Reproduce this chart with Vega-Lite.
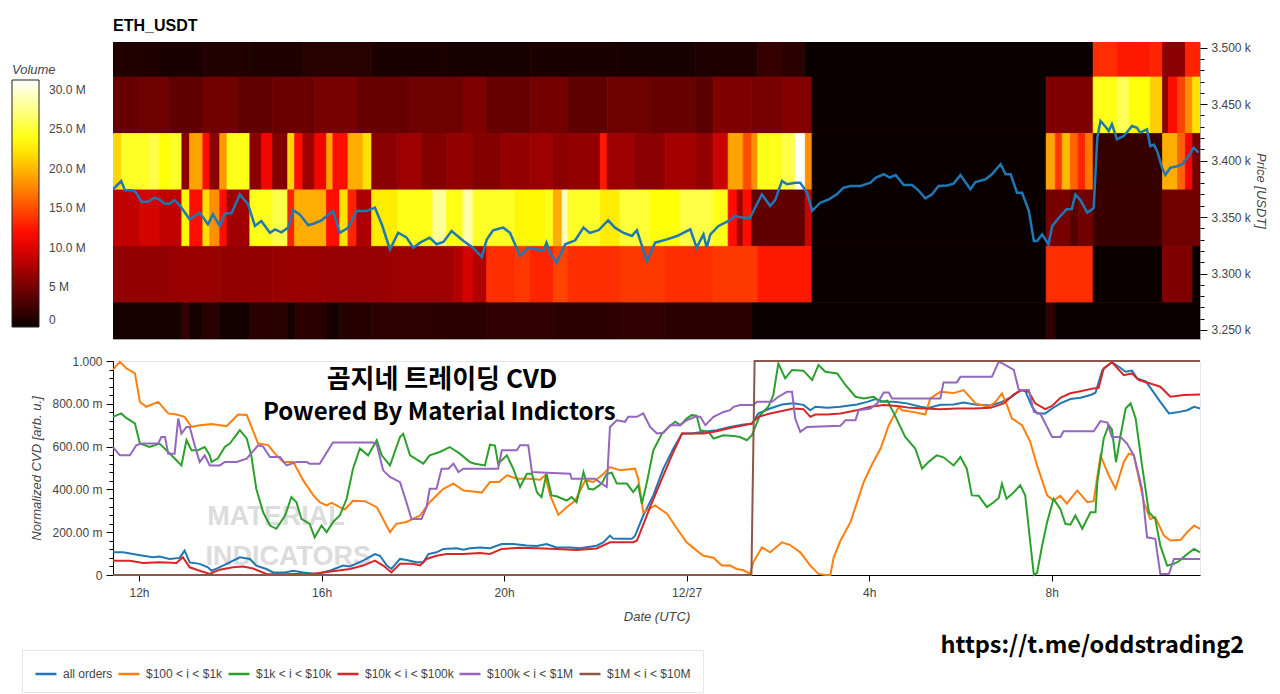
{
"$schema": "https://vega.github.io/schema/vega-lite/v6.json",
"background": "#ffffff",
"padding": {"left": 11, "top": 17, "right": 12, "bottom": 0},
"spacing": 14,
"resolve": {"scale": {"color": "independent", "x": "independent", "y": "independent"}, "legend": {"color": "independent"}},
"config": {
  "font": "Liberation Sans",
  "view": {"stroke": null},
  "axis": {"labelFont": "Liberation Sans", "titleFont": "Liberation Sans", "labelColor": "#444", "titleColor": "#444", "labelFontSize": 12, "titleFontSize": 13, "titleFontStyle": "italic", "titleFontWeight": "normal", "domainColor": "#000", "tickColor": "#000", "labelOverlap": false},
  "legend": {"labelFont": "Liberation Sans", "titleFont": "Liberation Sans"}
},
"datasets": {
"heat": [
{"t":11.43,"t2":12.45,"p":3474,"p2":3524,"v":1.0},{"t":12.45,"t2":13.40,"p":3474,"p2":3524,"v":0.7},{"t":13.40,"t2":14.43,"p":3474,"p2":3524,"v":1.1},{"t":14.43,"t2":15.59,"p":3474,"p2":3524,"v":0.9},{"t":15.59,"t2":17.10,"p":3474,"p2":3524,"v":1.3},{"t":17.10,"t2":18.74,"p":3474,"p2":3524,"v":0.8},{"t":18.74,"t2":20.57,"p":3474,"p2":3524,"v":0.6},{"t":20.57,"t2":22.54,"p":3474,"p2":3524,"v":0.8},{"t":22.54,"t2":24.19,"p":3474,"p2":3524,"v":0.6},{"t":24.19,"t2":25.56,"p":3474,"p2":3524,"v":0.9},{"t":25.56,"t2":26.09,"p":3474,"p2":3524,"v":2.0},{"t":26.09,"t2":26.60,"p":3474,"p2":3524,"v":1.5},{"t":26.60,"t2":32.91,"p":3474,"p2":3524,"v":0},{"t":32.91,"t2":33.44,"p":3474,"p2":3524,"v":13.5},{"t":33.44,"t2":34.16,"p":3474,"p2":3524,"v":12.5},{"t":34.16,"t2":34.43,"p":3474,"p2":3524,"v":13.0},{"t":34.43,"t2":34.93,"p":3474,"p2":3524,"v":6.0},{"t":34.93,"t2":35.25,"p":3474,"p2":3524,"v":13.0},
{"t":11.43,"t2":12.02,"p":3424,"p2":3474,"v":4.3},{"t":12.02,"t2":12.67,"p":3424,"p2":3474,"v":4.7},{"t":12.67,"t2":13.40,"p":3424,"p2":3474,"v":3.9},{"t":13.40,"t2":14.17,"p":3424,"p2":3474,"v":4.8},{"t":14.17,"t2":14.93,"p":3424,"p2":3474,"v":4.1},{"t":14.93,"t2":15.85,"p":3424,"p2":3474,"v":4.5},{"t":15.85,"t2":16.77,"p":3424,"p2":3474,"v":5.1},{"t":16.77,"t2":17.94,"p":3424,"p2":3474,"v":4.3},{"t":17.94,"t2":19.10,"p":3424,"p2":3474,"v":4.7},{"t":19.10,"t2":19.62,"p":3424,"p2":3474,"v":5.5},{"t":19.62,"t2":20.57,"p":3424,"p2":3474,"v":4.3},{"t":20.57,"t2":21.40,"p":3424,"p2":3474,"v":4.9},{"t":21.40,"t2":22.26,"p":3424,"p2":3474,"v":3.9},{"t":22.26,"t2":23.20,"p":3424,"p2":3474,"v":4.7},{"t":23.20,"t2":24.19,"p":3424,"p2":3474,"v":4.3},{"t":24.19,"t2":24.58,"p":3424,"p2":3474,"v":3.7},{"t":24.58,"t2":25.43,"p":3424,"p2":3474,"v":5.5},{"t":25.43,"t2":26.09,"p":3424,"p2":3474,"v":5.1},{"t":26.09,"t2":26.75,"p":3424,"p2":3474,"v":5.6},{"t":26.75,"t2":31.88,"p":3424,"p2":3474,"v":0},{"t":31.88,"t2":32.91,"p":3424,"p2":3474,"v":5.5},{"t":32.91,"t2":33.44,"p":3424,"p2":3474,"v":24.0},{"t":33.44,"t2":33.70,"p":3424,"p2":3474,"v":26.0},{"t":33.70,"t2":34.16,"p":3424,"p2":3474,"v":23.5},{"t":34.16,"t2":34.43,"p":3424,"p2":3474,"v":21.0},{"t":34.43,"t2":34.56,"p":3424,"p2":3474,"v":6.0},{"t":34.56,"t2":34.76,"p":3424,"p2":3474,"v":12.0},{"t":34.76,"t2":34.93,"p":3424,"p2":3474,"v":14.5},{"t":34.93,"t2":35.09,"p":3424,"p2":3474,"v":18.0},{"t":35.09,"t2":35.25,"p":3424,"p2":3474,"v":22.0},
{"t":11.43,"t2":11.62,"p":3374,"p2":3424,"v":21.5},{"t":11.62,"t2":12.23,"p":3374,"p2":3424,"v":24.5},{"t":12.23,"t2":12.45,"p":3374,"p2":3424,"v":25.5},{"t":12.45,"t2":12.67,"p":3374,"p2":3424,"v":23.5},{"t":12.67,"t2":12.94,"p":3374,"p2":3424,"v":24.5},{"t":12.94,"t2":13.11,"p":3374,"p2":3424,"v":6.0},{"t":13.11,"t2":13.40,"p":3374,"p2":3424,"v":19.0},{"t":13.40,"t2":13.55,"p":3374,"p2":3424,"v":12.0},{"t":13.55,"t2":13.77,"p":3374,"p2":3424,"v":6.0},{"t":13.77,"t2":13.93,"p":3374,"p2":3424,"v":18.5},{"t":13.93,"t2":14.43,"p":3374,"p2":3424,"v":24.0},{"t":14.43,"t2":14.69,"p":3374,"p2":3424,"v":6.0},{"t":14.69,"t2":14.93,"p":3374,"p2":3424,"v":11.0},{"t":14.93,"t2":15.26,"p":3374,"p2":3424,"v":5.6},{"t":15.26,"t2":15.41,"p":3374,"p2":3424,"v":21.5},{"t":15.41,"t2":15.59,"p":3374,"p2":3424,"v":12.0},{"t":15.59,"t2":15.85,"p":3374,"p2":3424,"v":6.8},{"t":15.85,"t2":16.11,"p":3374,"p2":3424,"v":11.0},{"t":16.11,"t2":16.25,"p":3374,"p2":3424,"v":19.0},{"t":16.25,"t2":16.58,"p":3374,"p2":3424,"v":12.0},{"t":16.58,"t2":16.91,"p":3374,"p2":3424,"v":19.5},{"t":16.91,"t2":17.10,"p":3374,"p2":3424,"v":22.0},{"t":17.10,"t2":17.67,"p":3374,"p2":3424,"v":6.0},{"t":17.67,"t2":18.20,"p":3374,"p2":3424,"v":6.8},{"t":18.20,"t2":18.74,"p":3374,"p2":3424,"v":5.6},{"t":18.74,"t2":19.32,"p":3374,"p2":3424,"v":6.4},{"t":19.32,"t2":19.91,"p":3374,"p2":3424,"v":5.6},{"t":19.91,"t2":20.57,"p":3374,"p2":3424,"v":6.4},{"t":20.57,"t2":21.08,"p":3374,"p2":3424,"v":6.8},{"t":21.08,"t2":21.40,"p":3374,"p2":3424,"v":6.0},{"t":21.40,"t2":22.11,"p":3374,"p2":3424,"v":6.4},{"t":22.11,"t2":22.26,"p":3374,"p2":3424,"v":12.5},{"t":22.26,"t2":22.87,"p":3374,"p2":3424,"v":6.8},{"t":22.87,"t2":23.53,"p":3374,"p2":3424,"v":6.0},{"t":23.53,"t2":24.19,"p":3374,"p2":3424,"v":7.2},{"t":24.19,"t2":24.58,"p":3374,"p2":3424,"v":6.4},{"t":24.58,"t2":24.91,"p":3374,"p2":3424,"v":9.0},{"t":24.91,"t2":25.24,"p":3374,"p2":3424,"v":19.0},{"t":25.24,"t2":25.43,"p":3374,"p2":3424,"v":15.0},{"t":25.43,"t2":25.56,"p":3374,"p2":3424,"v":18.0},{"t":25.56,"t2":26.09,"p":3374,"p2":3424,"v":24.0},{"t":26.09,"t2":26.38,"p":3374,"p2":3424,"v":25.5},{"t":26.38,"t2":26.60,"p":3374,"p2":3424,"v":31.0},{"t":26.60,"t2":26.75,"p":3374,"p2":3424,"v":18.0},{"t":26.75,"t2":31.88,"p":3374,"p2":3424,"v":0},{"t":31.88,"t2":32.08,"p":3374,"p2":3424,"v":19.0},{"t":32.08,"t2":32.23,"p":3374,"p2":3424,"v":14.0},{"t":32.23,"t2":32.41,"p":3374,"p2":3424,"v":20.0},{"t":32.41,"t2":32.58,"p":3374,"p2":3424,"v":16.0},{"t":32.58,"t2":32.74,"p":3374,"p2":3424,"v":13.0},{"t":32.74,"t2":32.91,"p":3374,"p2":3424,"v":17.0},{"t":32.91,"t2":34.43,"p":3374,"p2":3424,"v":2.0},{"t":34.43,"t2":34.76,"p":3374,"p2":3424,"v":19.5},{"t":34.76,"t2":34.93,"p":3374,"p2":3424,"v":16.0},{"t":34.93,"t2":35.09,"p":3374,"p2":3424,"v":11.0},{"t":35.09,"t2":35.25,"p":3374,"p2":3424,"v":5.0},
{"t":11.43,"t2":12.02,"p":3324,"p2":3374,"v":8.5},{"t":12.02,"t2":12.45,"p":3324,"p2":3374,"v":9.5},{"t":12.45,"t2":12.94,"p":3324,"p2":3374,"v":8.5},{"t":12.94,"t2":13.11,"p":3324,"p2":3374,"v":23.0},{"t":13.11,"t2":13.40,"p":3324,"p2":3374,"v":12.0},{"t":13.40,"t2":13.55,"p":3324,"p2":3374,"v":22.0},{"t":13.55,"t2":13.77,"p":3324,"p2":3374,"v":18.0},{"t":13.77,"t2":13.93,"p":3324,"p2":3374,"v":12.0},{"t":13.93,"t2":14.43,"p":3324,"p2":3374,"v":7.0},{"t":14.43,"t2":14.93,"p":3324,"p2":3374,"v":24.0},{"t":14.93,"t2":15.26,"p":3324,"p2":3374,"v":25.5},{"t":15.26,"t2":15.41,"p":3324,"p2":3374,"v":13.0},{"t":15.41,"t2":16.11,"p":3324,"p2":3374,"v":19.5},{"t":16.11,"t2":16.40,"p":3324,"p2":3374,"v":12.0},{"t":16.40,"t2":16.58,"p":3324,"p2":3374,"v":22.0},{"t":16.58,"t2":16.77,"p":3324,"p2":3374,"v":13.0},{"t":16.77,"t2":17.10,"p":3324,"p2":3374,"v":7.5},{"t":17.10,"t2":17.67,"p":3324,"p2":3374,"v":22.5},{"t":17.67,"t2":18.44,"p":3324,"p2":3374,"v":24.0},{"t":18.44,"t2":18.74,"p":3324,"p2":3374,"v":28.0},{"t":18.74,"t2":19.10,"p":3324,"p2":3374,"v":24.0},{"t":19.10,"t2":19.32,"p":3324,"p2":3374,"v":28.5},{"t":19.32,"t2":20.24,"p":3324,"p2":3374,"v":24.5},{"t":20.24,"t2":20.90,"p":3324,"p2":3374,"v":23.0},{"t":20.90,"t2":21.08,"p":3324,"p2":3374,"v":24.0},{"t":21.08,"t2":21.27,"p":3324,"p2":3374,"v":19.5},{"t":21.27,"t2":21.40,"p":3324,"p2":3374,"v":29.0},{"t":21.40,"t2":22.11,"p":3324,"p2":3374,"v":24.5},{"t":22.11,"t2":22.54,"p":3324,"p2":3374,"v":22.5},{"t":22.54,"t2":23.20,"p":3324,"p2":3374,"v":25.0},{"t":23.20,"t2":23.86,"p":3324,"p2":3374,"v":23.5},{"t":23.86,"t2":24.58,"p":3324,"p2":3374,"v":25.5},{"t":24.58,"t2":24.91,"p":3324,"p2":3374,"v":24.0},{"t":24.91,"t2":25.11,"p":3324,"p2":3374,"v":12.0},{"t":25.11,"t2":25.24,"p":3324,"p2":3374,"v":7.0},{"t":25.24,"t2":25.43,"p":3324,"p2":3374,"v":12.0},{"t":25.43,"t2":26.60,"p":3324,"p2":3374,"v":4.0},{"t":26.60,"t2":26.75,"p":3324,"p2":3374,"v":9.0},{"t":26.75,"t2":31.88,"p":3324,"p2":3374,"v":0},{"t":31.88,"t2":32.41,"p":3324,"p2":3374,"v":5.0},{"t":32.41,"t2":32.58,"p":3324,"p2":3374,"v":3.6},{"t":32.58,"t2":32.91,"p":3324,"p2":3374,"v":4.8},{"t":32.91,"t2":34.43,"p":3324,"p2":3374,"v":2.2},{"t":34.43,"t2":35.25,"p":3324,"p2":3374,"v":4.8},
{"t":11.43,"t2":12.67,"p":3274,"p2":3324,"v":6.3},{"t":12.67,"t2":13.77,"p":3274,"p2":3324,"v":6.6},{"t":13.77,"t2":14.93,"p":3274,"p2":3324,"v":6.3},{"t":14.93,"t2":16.11,"p":3274,"p2":3324,"v":6.6},{"t":16.11,"t2":17.39,"p":3274,"p2":3324,"v":6.5},{"t":17.39,"t2":18.88,"p":3274,"p2":3324,"v":6.8},{"t":18.88,"t2":19.10,"p":3274,"p2":3324,"v":7.8},{"t":19.10,"t2":19.32,"p":3274,"p2":3324,"v":9.5},{"t":19.32,"t2":19.62,"p":3274,"p2":3324,"v":7.8},{"t":19.62,"t2":20.24,"p":3274,"p2":3324,"v":13.5},{"t":20.24,"t2":20.57,"p":3274,"p2":3324,"v":14.0},{"t":20.57,"t2":21.08,"p":3274,"p2":3324,"v":13.0},{"t":21.08,"t2":21.40,"p":3274,"p2":3324,"v":14.5},{"t":21.40,"t2":22.54,"p":3274,"p2":3324,"v":13.5},{"t":22.54,"t2":23.53,"p":3274,"p2":3324,"v":14.0},{"t":23.53,"t2":24.58,"p":3274,"p2":3324,"v":13.5},{"t":24.58,"t2":25.56,"p":3274,"p2":3324,"v":14.0},{"t":25.56,"t2":26.75,"p":3274,"p2":3324,"v":12.5},{"t":26.75,"t2":31.88,"p":3274,"p2":3324,"v":0},{"t":31.88,"t2":32.91,"p":3274,"p2":3324,"v":13.5},{"t":32.91,"t2":34.43,"p":3274,"p2":3324,"v":0},{"t":34.43,"t2":35.09,"p":3274,"p2":3324,"v":5.5},{"t":35.09,"t2":35.25,"p":3274,"p2":3324,"v":0},
{"t":11.43,"t2":12.94,"p":3224,"p2":3274,"v":0.5},{"t":12.94,"t2":13.11,"p":3224,"p2":3274,"v":1.8},{"t":13.11,"t2":13.40,"p":3224,"p2":3274,"v":0.5},{"t":13.40,"t2":13.77,"p":3224,"p2":3274,"v":1.4},{"t":13.77,"t2":14.43,"p":3224,"p2":3274,"v":0.4},{"t":14.43,"t2":15.26,"p":3224,"p2":3274,"v":1.4},{"t":15.26,"t2":15.41,"p":3224,"p2":3274,"v":0.4},{"t":15.41,"t2":16.11,"p":3224,"p2":3274,"v":1.5},{"t":16.11,"t2":16.40,"p":3224,"p2":3274,"v":0.4},{"t":16.40,"t2":17.10,"p":3224,"p2":3274,"v":1.2},{"t":17.10,"t2":18.74,"p":3224,"p2":3274,"v":1.6},{"t":18.74,"t2":19.62,"p":3224,"p2":3274,"v":1.4},{"t":19.62,"t2":21.08,"p":3224,"p2":3274,"v":1.8},{"t":21.08,"t2":22.54,"p":3224,"p2":3274,"v":1.5},{"t":22.54,"t2":23.53,"p":3224,"p2":3274,"v":1.8},{"t":23.53,"t2":25.43,"p":3224,"p2":3274,"v":1.5},{"t":25.43,"t2":31.88,"p":3224,"p2":3274,"v":0},{"t":31.88,"t2":32.08,"p":3224,"p2":3274,"v":1.8},{"t":32.08,"t2":35.25,"p":3224,"p2":3274,"v":0}
],
"price": [
{"t":11.43,"price":3374.6},{"t":11.61,"price":3381.9},{"t":11.69,"price":3373.7},{"t":11.87,"price":3373.7},{"t":11.94,"price":3371.6},{"t":12.05,"price":3363.6},{"t":12.20,"price":3363.6},{"t":12.34,"price":3367.1},{"t":12.45,"price":3365.5},{"t":12.56,"price":3361.8},{"t":12.67,"price":3361.8},{"t":12.78,"price":3364.8},{"t":12.89,"price":3360.5},{"t":13.11,"price":3348.0},{"t":13.33,"price":3353.9},{"t":13.51,"price":3343.6},{"t":13.62,"price":3352.4},{"t":13.77,"price":3342.1},{"t":13.88,"price":3353.0},{"t":14.03,"price":3353.5},{"t":14.21,"price":3370.1},{"t":14.39,"price":3361.3},{"t":14.54,"price":3342.1},{"t":14.68,"price":3346.5},{"t":14.87,"price":3336.1},{"t":14.98,"price":3339.1},{"t":15.12,"price":3336.5},{"t":15.27,"price":3340.6},{"t":15.38,"price":3356.0},{"t":15.52,"price":3352.4},{"t":15.71,"price":3342.7},{"t":15.85,"price":3344.5},{"t":16.00,"price":3347.1},{"t":16.25,"price":3355.4},{"t":16.40,"price":3336.1},{"t":16.58,"price":3340.5},{"t":16.77,"price":3355.4},{"t":16.99,"price":3355.4},{"t":17.17,"price":3358.3},{"t":17.32,"price":3343.6},{"t":17.50,"price":3321.4},{"t":17.68,"price":3336.1},{"t":17.86,"price":3332.0},{"t":18.01,"price":3322.9},{"t":18.16,"price":3327.3},{"t":18.37,"price":3331.7},{"t":18.52,"price":3325.9},{"t":18.67,"price":3328.0},{"t":18.85,"price":3337.6},{"t":19.11,"price":3328.8},{"t":19.32,"price":3322.9},{"t":19.51,"price":3314.6},{"t":19.62,"price":3330.0},{"t":19.76,"price":3338.3},{"t":19.98,"price":3340.6},{"t":20.13,"price":3336.0},{"t":20.35,"price":3315.5},{"t":20.53,"price":3322.9},{"t":20.75,"price":3321.0},{"t":20.86,"price":3320.0},{"t":20.93,"price":3327.3},{"t":21.01,"price":3318.0},{"t":21.15,"price":3309.6},{"t":21.34,"price":3325.9},{"t":21.56,"price":3329.4},{"t":21.74,"price":3340.6},{"t":21.88,"price":3336.0},{"t":22.07,"price":3338.3},{"t":22.28,"price":3347.1},{"t":22.43,"price":3340.6},{"t":22.61,"price":3336.1},{"t":22.80,"price":3333.2},{"t":22.91,"price":3338.3},{"t":23.13,"price":3311.1},{"t":23.31,"price":3327.3},{"t":23.57,"price":3330.2},{"t":23.79,"price":3333.2},{"t":24.08,"price":3339.1},{"t":24.22,"price":3322.9},{"t":24.37,"price":3334.7},{"t":24.44,"price":3322.9},{"t":24.52,"price":3334.7},{"t":24.70,"price":3342.1},{"t":24.92,"price":3346.5},{"t":25.06,"price":3350.9},{"t":25.25,"price":3349.4},{"t":25.39,"price":3349.4},{"t":25.65,"price":3370.1},{"t":25.83,"price":3359.8},{"t":25.94,"price":3365.0},{"t":26.09,"price":3381.9},{"t":26.20,"price":3379.0},{"t":26.38,"price":3380.4},{"t":26.49,"price":3380.4},{"t":26.64,"price":3371.6},{"t":26.75,"price":3355.4},{"t":26.93,"price":3362.7},{"t":27.11,"price":3365.5},{"t":27.29,"price":3370.1},{"t":27.44,"price":3376.0},{"t":27.59,"price":3377.5},{"t":27.81,"price":3377.5},{"t":28.03,"price":3380.4},{"t":28.14,"price":3384.8},{"t":28.32,"price":3387.9},{"t":28.45,"price":3385.0},{"t":28.58,"price":3387.2},{"t":28.76,"price":3378.4},{"t":28.94,"price":3378.4},{"t":29.08,"price":3373.7},{"t":29.23,"price":3366.6},{"t":29.38,"price":3370.1},{"t":29.52,"price":3377.5},{"t":29.71,"price":3378.0},{"t":29.85,"price":3379.6},{"t":30.00,"price":3387.2},{"t":30.22,"price":3374.6},{"t":30.33,"price":3381.0},{"t":30.55,"price":3383.4},{"t":30.69,"price":3387.9},{"t":30.88,"price":3396.7},{"t":30.99,"price":3387.9},{"t":31.10,"price":3387.9},{"t":31.24,"price":3371.6},{"t":31.35,"price":3371.6},{"t":31.50,"price":3355.4},{"t":31.61,"price":3328.8},{"t":31.68,"price":3328.8},{"t":31.79,"price":3334.7},{"t":31.93,"price":3325.9},{"t":32.01,"price":3342.1},{"t":32.19,"price":3350.9},{"t":32.33,"price":3356.9},{"t":32.44,"price":3357.0},{"t":32.52,"price":3370.1},{"t":32.63,"price":3365.0},{"t":32.78,"price":3353.9},{"t":32.89,"price":3357.0},{"t":32.92,"price":3358.0},{"t":33.00,"price":3420.3},{"t":33.07,"price":3435.1},{"t":33.18,"price":3430.0},{"t":33.25,"price":3426.2},{"t":33.32,"price":3432.2},{"t":33.43,"price":3418.9},{"t":33.58,"price":3421.8},{"t":33.76,"price":3430.6},{"t":33.87,"price":3429.0},{"t":33.94,"price":3424.7},{"t":34.09,"price":3427.7},{"t":34.16,"price":3412.9},{"t":34.24,"price":3414.0},{"t":34.31,"price":3408.5},{"t":34.42,"price":3393.7},{"t":34.49,"price":3387.2},{"t":34.60,"price":3393.7},{"t":34.75,"price":3395.0},{"t":34.86,"price":3396.7},{"t":35.00,"price":3404.1},{"t":35.11,"price":3411.4},{"t":35.22,"price":3407.0}
],
"cvd": [
{"t":11.43,"s":"all orders","v":0.106},{"t":11.65,"s":"all orders","v":0.106},{"t":11.87,"s":"all orders","v":0.098},{"t":12.09,"s":"all orders","v":0.090},{"t":12.31,"s":"all orders","v":0.083},{"t":12.45,"s":"all orders","v":0.086},{"t":12.67,"s":"all orders","v":0.075},{"t":12.89,"s":"all orders","v":0.080},{"t":13.00,"s":"all orders","v":0.114},{"t":13.11,"s":"all orders","v":0.059},{"t":13.33,"s":"all orders","v":0.052},{"t":13.51,"s":"all orders","v":0.036},{"t":13.59,"s":"all orders","v":0.020},{"t":13.70,"s":"all orders","v":0.030},{"t":13.92,"s":"all orders","v":0.052},{"t":14.21,"s":"all orders","v":0.083},{"t":14.43,"s":"all orders","v":0.075},{"t":14.57,"s":"all orders","v":0.044},{"t":14.79,"s":"all orders","v":0.028},{"t":14.94,"s":"all orders","v":0.012},{"t":15.20,"s":"all orders","v":0.012},{"t":15.38,"s":"all orders","v":0.020},{"t":15.60,"s":"all orders","v":0.012},{"t":15.89,"s":"all orders","v":0.005},{"t":16.18,"s":"all orders","v":0.020},{"t":16.47,"s":"all orders","v":0.044},{"t":16.62,"s":"all orders","v":0.040},{"t":16.91,"s":"all orders","v":0.067},{"t":17.17,"s":"all orders","v":0.098},{"t":17.28,"s":"all orders","v":0.090},{"t":17.43,"s":"all orders","v":0.044},{"t":17.53,"s":"all orders","v":0.028},{"t":17.72,"s":"all orders","v":0.075},{"t":17.86,"s":"all orders","v":0.070},{"t":18.08,"s":"all orders","v":0.060},{"t":18.23,"s":"all orders","v":0.059},{"t":18.34,"s":"all orders","v":0.098},{"t":18.52,"s":"all orders","v":0.106},{"t":18.67,"s":"all orders","v":0.122},{"t":18.96,"s":"all orders","v":0.125},{"t":19.11,"s":"all orders","v":0.118},{"t":19.25,"s":"all orders","v":0.125},{"t":19.47,"s":"all orders","v":0.128},{"t":19.69,"s":"all orders","v":0.125},{"t":19.95,"s":"all orders","v":0.145},{"t":20.20,"s":"all orders","v":0.145},{"t":20.50,"s":"all orders","v":0.138},{"t":20.72,"s":"all orders","v":0.136},{"t":20.93,"s":"all orders","v":0.145},{"t":21.15,"s":"all orders","v":0.129},{"t":21.45,"s":"all orders","v":0.129},{"t":21.67,"s":"all orders","v":0.125},{"t":21.88,"s":"all orders","v":0.132},{"t":22.03,"s":"all orders","v":0.137},{"t":22.18,"s":"all orders","v":0.153},{"t":22.32,"s":"all orders","v":0.184},{"t":22.39,"s":"all orders","v":0.170},{"t":22.54,"s":"all orders","v":0.169},{"t":22.80,"s":"all orders","v":0.169},{"t":22.87,"s":"all orders","v":0.184},{"t":23.05,"s":"all orders","v":0.278},{"t":23.27,"s":"all orders","v":0.372},{"t":23.49,"s":"all orders","v":0.497},{"t":23.71,"s":"all orders","v":0.591},{"t":23.90,"s":"all orders","v":0.661},{"t":24.11,"s":"all orders","v":0.661},{"t":24.37,"s":"all orders","v":0.669},{"t":24.66,"s":"all orders","v":0.677},{"t":24.95,"s":"all orders","v":0.692},{"t":25.25,"s":"all orders","v":0.703},{"t":25.43,"s":"all orders","v":0.706},{"t":25.57,"s":"all orders","v":0.755},{"t":25.83,"s":"all orders","v":0.778},{"t":26.09,"s":"all orders","v":0.797},{"t":26.34,"s":"all orders","v":0.802},{"t":26.56,"s":"all orders","v":0.795},{"t":26.71,"s":"all orders","v":0.770},{"t":26.82,"s":"all orders","v":0.786},{"t":27.08,"s":"all orders","v":0.781},{"t":27.37,"s":"all orders","v":0.786},{"t":27.73,"s":"all orders","v":0.797},{"t":27.96,"s":"all orders","v":0.809},{"t":28.14,"s":"all orders","v":0.822},{"t":28.32,"s":"all orders","v":0.809},{"t":28.54,"s":"all orders","v":0.809},{"t":28.83,"s":"all orders","v":0.802},{"t":29.12,"s":"all orders","v":0.786},{"t":29.30,"s":"all orders","v":0.780},{"t":29.56,"s":"all orders","v":0.795},{"t":29.85,"s":"all orders","v":0.797},{"t":30.07,"s":"all orders","v":0.806},{"t":30.36,"s":"all orders","v":0.795},{"t":30.66,"s":"all orders","v":0.792},{"t":30.91,"s":"all orders","v":0.809},{"t":31.13,"s":"all orders","v":0.833},{"t":31.31,"s":"all orders","v":0.864},{"t":31.42,"s":"all orders","v":0.860},{"t":31.57,"s":"all orders","v":0.786},{"t":31.68,"s":"all orders","v":0.755},{"t":31.86,"s":"all orders","v":0.755},{"t":32.01,"s":"all orders","v":0.778},{"t":32.19,"s":"all orders","v":0.802},{"t":32.41,"s":"all orders","v":0.822},{"t":32.63,"s":"all orders","v":0.828},{"t":32.85,"s":"all orders","v":0.841},{"t":32.96,"s":"all orders","v":0.852},{"t":33.11,"s":"all orders","v":0.958},{"t":33.32,"s":"all orders","v":0.994},{"t":33.47,"s":"all orders","v":0.973},{"t":33.62,"s":"all orders","v":0.950},{"t":33.76,"s":"all orders","v":0.955},{"t":33.87,"s":"all orders","v":0.919},{"t":34.06,"s":"all orders","v":0.905},{"t":34.20,"s":"all orders","v":0.864},{"t":34.38,"s":"all orders","v":0.809},{"t":34.57,"s":"all orders","v":0.755},{"t":34.75,"s":"all orders","v":0.760},{"t":34.97,"s":"all orders","v":0.770},{"t":35.12,"s":"all orders","v":0.786},{"t":35.25,"s":"all orders","v":0.778},
{"t":11.43,"s":"$100 < i < $1k","v":0.958},{"t":11.58,"s":"$100 < i < $1k","v":0.997},{"t":11.72,"s":"$100 < i < $1k","v":0.966},{"t":11.91,"s":"$100 < i < $1k","v":0.942},{"t":12.02,"s":"$100 < i < $1k","v":0.809},{"t":12.16,"s":"$100 < i < $1k","v":0.786},{"t":12.42,"s":"$100 < i < $1k","v":0.809},{"t":12.64,"s":"$100 < i < $1k","v":0.755},{"t":12.82,"s":"$100 < i < $1k","v":0.750},{"t":13.00,"s":"$100 < i < $1k","v":0.739},{"t":13.15,"s":"$100 < i < $1k","v":0.692},{"t":13.33,"s":"$100 < i < $1k","v":0.700},{"t":13.59,"s":"$100 < i < $1k","v":0.705},{"t":13.92,"s":"$100 < i < $1k","v":0.695},{"t":14.17,"s":"$100 < i < $1k","v":0.750},{"t":14.36,"s":"$100 < i < $1k","v":0.748},{"t":14.61,"s":"$100 < i < $1k","v":0.614},{"t":14.83,"s":"$100 < i < $1k","v":0.607},{"t":14.98,"s":"$100 < i < $1k","v":0.567},{"t":15.16,"s":"$100 < i < $1k","v":0.528},{"t":15.38,"s":"$100 < i < $1k","v":0.528},{"t":15.60,"s":"$100 < i < $1k","v":0.442},{"t":15.82,"s":"$100 < i < $1k","v":0.372},{"t":15.96,"s":"$100 < i < $1k","v":0.340},{"t":16.11,"s":"$100 < i < $1k","v":0.325},{"t":16.22,"s":"$100 < i < $1k","v":0.337},{"t":16.40,"s":"$100 < i < $1k","v":0.317},{"t":16.51,"s":"$100 < i < $1k","v":0.306},{"t":16.69,"s":"$100 < i < $1k","v":0.347},{"t":16.95,"s":"$100 < i < $1k","v":0.345},{"t":17.21,"s":"$100 < i < $1k","v":0.317},{"t":17.50,"s":"$100 < i < $1k","v":0.200},{"t":17.64,"s":"$100 < i < $1k","v":0.239},{"t":17.86,"s":"$100 < i < $1k","v":0.248},{"t":18.16,"s":"$100 < i < $1k","v":0.278},{"t":18.37,"s":"$100 < i < $1k","v":0.340},{"t":18.67,"s":"$100 < i < $1k","v":0.403},{"t":18.89,"s":"$100 < i < $1k","v":0.427},{"t":19.11,"s":"$100 < i < $1k","v":0.395},{"t":19.47,"s":"$100 < i < $1k","v":0.387},{"t":19.51,"s":"$100 < i < $1k","v":0.385},{"t":19.69,"s":"$100 < i < $1k","v":0.434},{"t":19.89,"s":"$100 < i < $1k","v":0.434},{"t":20.06,"s":"$100 < i < $1k","v":0.466},{"t":20.28,"s":"$100 < i < $1k","v":0.450},{"t":20.53,"s":"$100 < i < $1k","v":0.450},{"t":20.79,"s":"$100 < i < $1k","v":0.445},{"t":20.90,"s":"$100 < i < $1k","v":0.466},{"t":21.01,"s":"$100 < i < $1k","v":0.372},{"t":21.19,"s":"$100 < i < $1k","v":0.281},{"t":21.37,"s":"$100 < i < $1k","v":0.317},{"t":21.56,"s":"$100 < i < $1k","v":0.348},{"t":21.78,"s":"$100 < i < $1k","v":0.442},{"t":21.96,"s":"$100 < i < $1k","v":0.435},{"t":22.18,"s":"$100 < i < $1k","v":0.473},{"t":22.32,"s":"$100 < i < $1k","v":0.504},{"t":22.54,"s":"$100 < i < $1k","v":0.490},{"t":22.87,"s":"$100 < i < $1k","v":0.497},{"t":22.94,"s":"$100 < i < $1k","v":0.450},{"t":23.05,"s":"$100 < i < $1k","v":0.293},{"t":23.31,"s":"$100 < i < $1k","v":0.325},{"t":23.57,"s":"$100 < i < $1k","v":0.286},{"t":23.79,"s":"$100 < i < $1k","v":0.216},{"t":24.00,"s":"$100 < i < $1k","v":0.153},{"t":24.22,"s":"$100 < i < $1k","v":0.114},{"t":24.37,"s":"$100 < i < $1k","v":0.090},{"t":24.59,"s":"$100 < i < $1k","v":0.081},{"t":24.77,"s":"$100 < i < $1k","v":0.044},{"t":24.95,"s":"$100 < i < $1k","v":0.044},{"t":25.10,"s":"$100 < i < $1k","v":0.028},{"t":25.25,"s":"$100 < i < $1k","v":0.022},{"t":25.39,"s":"$100 < i < $1k","v":0.005},{"t":25.46,"s":"$100 < i < $1k","v":0.059},{"t":25.65,"s":"$100 < i < $1k","v":0.129},{"t":25.83,"s":"$100 < i < $1k","v":0.106},{"t":26.09,"s":"$100 < i < $1k","v":0.153},{"t":26.27,"s":"$100 < i < $1k","v":0.140},{"t":26.49,"s":"$100 < i < $1k","v":0.106},{"t":26.71,"s":"$100 < i < $1k","v":0.044},{"t":26.89,"s":"$100 < i < $1k","v":0.005},{"t":27.04,"s":"$100 < i < $1k","v":0.000},{"t":27.15,"s":"$100 < i < $1k","v":0.000},{"t":27.22,"s":"$100 < i < $1k","v":0.080},{"t":27.37,"s":"$100 < i < $1k","v":0.160},{"t":27.59,"s":"$100 < i < $1k","v":0.247},{"t":27.88,"s":"$100 < i < $1k","v":0.434},{"t":28.07,"s":"$100 < i < $1k","v":0.520},{"t":28.25,"s":"$100 < i < $1k","v":0.591},{"t":28.43,"s":"$100 < i < $1k","v":0.700},{"t":28.65,"s":"$100 < i < $1k","v":0.786},{"t":28.72,"s":"$100 < i < $1k","v":0.770},{"t":29.01,"s":"$100 < i < $1k","v":0.760},{"t":29.12,"s":"$100 < i < $1k","v":0.755},{"t":29.23,"s":"$100 < i < $1k","v":0.750},{"t":29.34,"s":"$100 < i < $1k","v":0.825},{"t":29.56,"s":"$100 < i < $1k","v":0.856},{"t":29.85,"s":"$100 < i < $1k","v":0.850},{"t":30.07,"s":"$100 < i < $1k","v":0.864},{"t":30.33,"s":"$100 < i < $1k","v":0.802},{"t":30.62,"s":"$100 < i < $1k","v":0.786},{"t":30.77,"s":"$100 < i < $1k","v":0.809},{"t":30.91,"s":"$100 < i < $1k","v":0.849},{"t":31.02,"s":"$100 < i < $1k","v":0.794},{"t":31.13,"s":"$100 < i < $1k","v":0.731},{"t":31.35,"s":"$100 < i < $1k","v":0.700},{"t":31.53,"s":"$100 < i < $1k","v":0.622},{"t":31.68,"s":"$100 < i < $1k","v":0.512},{"t":31.90,"s":"$100 < i < $1k","v":0.372},{"t":32.04,"s":"$100 < i < $1k","v":0.348},{"t":32.19,"s":"$100 < i < $1k","v":0.370},{"t":32.33,"s":"$100 < i < $1k","v":0.333},{"t":32.56,"s":"$100 < i < $1k","v":0.395},{"t":32.78,"s":"$100 < i < $1k","v":0.340},{"t":32.92,"s":"$100 < i < $1k","v":0.345},{"t":33.07,"s":"$100 < i < $1k","v":0.559},{"t":33.25,"s":"$100 < i < $1k","v":0.466},{"t":33.40,"s":"$100 < i < $1k","v":0.403},{"t":33.58,"s":"$100 < i < $1k","v":0.528},{"t":33.69,"s":"$100 < i < $1k","v":0.567},{"t":33.80,"s":"$100 < i < $1k","v":0.560},{"t":34.02,"s":"$100 < i < $1k","v":0.340},{"t":34.16,"s":"$100 < i < $1k","v":0.262},{"t":34.27,"s":"$100 < i < $1k","v":0.270},{"t":34.46,"s":"$100 < i < $1k","v":0.184},{"t":34.60,"s":"$100 < i < $1k","v":0.161},{"t":34.83,"s":"$100 < i < $1k","v":0.165},{"t":34.97,"s":"$100 < i < $1k","v":0.200},{"t":35.12,"s":"$100 < i < $1k","v":0.231},{"t":35.25,"s":"$100 < i < $1k","v":0.216},
{"t":11.43,"s":"$1k < i < $10k","v":0.739},{"t":11.61,"s":"$1k < i < $10k","v":0.755},{"t":11.72,"s":"$1k < i < $10k","v":0.734},{"t":11.91,"s":"$1k < i < $10k","v":0.708},{"t":12.02,"s":"$1k < i < $10k","v":0.614},{"t":12.23,"s":"$1k < i < $10k","v":0.598},{"t":12.45,"s":"$1k < i < $10k","v":0.614},{"t":12.64,"s":"$1k < i < $10k","v":0.575},{"t":12.82,"s":"$1k < i < $10k","v":0.536},{"t":12.93,"s":"$1k < i < $10k","v":0.512},{"t":13.04,"s":"$1k < i < $10k","v":0.630},{"t":13.15,"s":"$1k < i < $10k","v":0.583},{"t":13.29,"s":"$1k < i < $10k","v":0.583},{"t":13.44,"s":"$1k < i < $10k","v":0.598},{"t":13.55,"s":"$1k < i < $10k","v":0.559},{"t":13.59,"s":"$1k < i < $10k","v":0.528},{"t":13.73,"s":"$1k < i < $10k","v":0.545},{"t":13.88,"s":"$1k < i < $10k","v":0.598},{"t":13.99,"s":"$1k < i < $10k","v":0.614},{"t":14.21,"s":"$1k < i < $10k","v":0.677},{"t":14.36,"s":"$1k < i < $10k","v":0.638},{"t":14.46,"s":"$1k < i < $10k","v":0.559},{"t":14.57,"s":"$1k < i < $10k","v":0.403},{"t":14.72,"s":"$1k < i < $10k","v":0.293},{"t":14.87,"s":"$1k < i < $10k","v":0.231},{"t":15.01,"s":"$1k < i < $10k","v":0.216},{"t":15.20,"s":"$1k < i < $10k","v":0.278},{"t":15.34,"s":"$1k < i < $10k","v":0.364},{"t":15.45,"s":"$1k < i < $10k","v":0.340},{"t":15.56,"s":"$1k < i < $10k","v":0.262},{"t":15.74,"s":"$1k < i < $10k","v":0.239},{"t":15.85,"s":"$1k < i < $10k","v":0.176},{"t":16.00,"s":"$1k < i < $10k","v":0.231},{"t":16.11,"s":"$1k < i < $10k","v":0.200},{"t":16.25,"s":"$1k < i < $10k","v":0.247},{"t":16.40,"s":"$1k < i < $10k","v":0.278},{"t":16.55,"s":"$1k < i < $10k","v":0.356},{"t":16.69,"s":"$1k < i < $10k","v":0.497},{"t":16.84,"s":"$1k < i < $10k","v":0.591},{"t":17.02,"s":"$1k < i < $10k","v":0.559},{"t":17.21,"s":"$1k < i < $10k","v":0.630},{"t":17.32,"s":"$1k < i < $10k","v":0.559},{"t":17.50,"s":"$1k < i < $10k","v":0.512},{"t":17.72,"s":"$1k < i < $10k","v":0.645},{"t":17.79,"s":"$1k < i < $10k","v":0.660},{"t":17.94,"s":"$1k < i < $10k","v":0.559},{"t":18.23,"s":"$1k < i < $10k","v":0.520},{"t":18.37,"s":"$1k < i < $10k","v":0.559},{"t":18.59,"s":"$1k < i < $10k","v":0.575},{"t":18.81,"s":"$1k < i < $10k","v":0.598},{"t":19.03,"s":"$1k < i < $10k","v":0.567},{"t":19.25,"s":"$1k < i < $10k","v":0.528},{"t":19.36,"s":"$1k < i < $10k","v":0.520},{"t":19.58,"s":"$1k < i < $10k","v":0.512},{"t":19.69,"s":"$1k < i < $10k","v":0.609},{"t":19.80,"s":"$1k < i < $10k","v":0.605},{"t":19.87,"s":"$1k < i < $10k","v":0.520},{"t":20.06,"s":"$1k < i < $10k","v":0.559},{"t":20.20,"s":"$1k < i < $10k","v":0.497},{"t":20.35,"s":"$1k < i < $10k","v":0.411},{"t":20.50,"s":"$1k < i < $10k","v":0.473},{"t":20.61,"s":"$1k < i < $10k","v":0.473},{"t":20.72,"s":"$1k < i < $10k","v":0.387},{"t":20.82,"s":"$1k < i < $10k","v":0.364},{"t":20.93,"s":"$1k < i < $10k","v":0.473},{"t":21.04,"s":"$1k < i < $10k","v":0.372},{"t":21.15,"s":"$1k < i < $10k","v":0.368},{"t":21.37,"s":"$1k < i < $10k","v":0.348},{"t":21.48,"s":"$1k < i < $10k","v":0.364},{"t":21.59,"s":"$1k < i < $10k","v":0.340},{"t":21.74,"s":"$1k < i < $10k","v":0.481},{"t":21.85,"s":"$1k < i < $10k","v":0.403},{"t":21.96,"s":"$1k < i < $10k","v":0.400},{"t":22.14,"s":"$1k < i < $10k","v":0.427},{"t":22.25,"s":"$1k < i < $10k","v":0.473},{"t":22.36,"s":"$1k < i < $10k","v":0.478},{"t":22.47,"s":"$1k < i < $10k","v":0.427},{"t":22.69,"s":"$1k < i < $10k","v":0.427},{"t":22.83,"s":"$1k < i < $10k","v":0.387},{"t":22.94,"s":"$1k < i < $10k","v":0.419},{"t":23.02,"s":"$1k < i < $10k","v":0.333},{"t":23.13,"s":"$1k < i < $10k","v":0.434},{"t":23.27,"s":"$1k < i < $10k","v":0.583},{"t":23.46,"s":"$1k < i < $10k","v":0.661},{"t":23.64,"s":"$1k < i < $10k","v":0.697},{"t":23.75,"s":"$1k < i < $10k","v":0.716},{"t":23.86,"s":"$1k < i < $10k","v":0.700},{"t":24.00,"s":"$1k < i < $10k","v":0.731},{"t":24.11,"s":"$1k < i < $10k","v":0.747},{"t":24.22,"s":"$1k < i < $10k","v":0.745},{"t":24.30,"s":"$1k < i < $10k","v":0.677},{"t":24.48,"s":"$1k < i < $10k","v":0.669},{"t":24.59,"s":"$1k < i < $10k","v":0.638},{"t":24.81,"s":"$1k < i < $10k","v":0.653},{"t":25.03,"s":"$1k < i < $10k","v":0.650},{"t":25.17,"s":"$1k < i < $10k","v":0.645},{"t":25.32,"s":"$1k < i < $10k","v":0.630},{"t":25.43,"s":"$1k < i < $10k","v":0.653},{"t":25.61,"s":"$1k < i < $10k","v":0.747},{"t":25.79,"s":"$1k < i < $10k","v":0.786},{"t":25.90,"s":"$1k < i < $10k","v":0.841},{"t":26.01,"s":"$1k < i < $10k","v":0.989},{"t":26.16,"s":"$1k < i < $10k","v":0.919},{"t":26.31,"s":"$1k < i < $10k","v":0.958},{"t":26.56,"s":"$1k < i < $10k","v":0.955},{"t":26.75,"s":"$1k < i < $10k","v":0.911},{"t":26.89,"s":"$1k < i < $10k","v":0.981},{"t":27.04,"s":"$1k < i < $10k","v":0.950},{"t":27.30,"s":"$1k < i < $10k","v":0.942},{"t":27.48,"s":"$1k < i < $10k","v":0.888},{"t":27.70,"s":"$1k < i < $10k","v":0.833},{"t":27.88,"s":"$1k < i < $10k","v":0.825},{"t":28.10,"s":"$1k < i < $10k","v":0.833},{"t":28.25,"s":"$1k < i < $10k","v":0.809},{"t":28.40,"s":"$1k < i < $10k","v":0.815},{"t":28.58,"s":"$1k < i < $10k","v":0.739},{"t":28.79,"s":"$1k < i < $10k","v":0.645},{"t":29.01,"s":"$1k < i < $10k","v":0.591},{"t":29.16,"s":"$1k < i < $10k","v":0.497},{"t":29.30,"s":"$1k < i < $10k","v":0.528},{"t":29.48,"s":"$1k < i < $10k","v":0.559},{"t":29.63,"s":"$1k < i < $10k","v":0.550},{"t":29.85,"s":"$1k < i < $10k","v":0.512},{"t":30.00,"s":"$1k < i < $10k","v":0.551},{"t":30.14,"s":"$1k < i < $10k","v":0.497},{"t":30.25,"s":"$1k < i < $10k","v":0.372},{"t":30.40,"s":"$1k < i < $10k","v":0.370},{"t":30.58,"s":"$1k < i < $10k","v":0.317},{"t":30.73,"s":"$1k < i < $10k","v":0.340},{"t":30.84,"s":"$1k < i < $10k","v":0.360},{"t":30.91,"s":"$1k < i < $10k","v":0.427},{"t":31.01,"s":"$1k < i < $10k","v":0.356},{"t":31.17,"s":"$1k < i < $10k","v":0.387},{"t":31.31,"s":"$1k < i < $10k","v":0.419},{"t":31.42,"s":"$1k < i < $10k","v":0.372},{"t":31.53,"s":"$1k < i < $10k","v":0.153},{"t":31.61,"s":"$1k < i < $10k","v":0.000},{"t":31.68,"s":"$1k < i < $10k","v":0.010},{"t":31.79,"s":"$1k < i < $10k","v":0.137},{"t":31.90,"s":"$1k < i < $10k","v":0.247},{"t":32.04,"s":"$1k < i < $10k","v":0.356},{"t":32.19,"s":"$1k < i < $10k","v":0.309},{"t":32.30,"s":"$1k < i < $10k","v":0.239},{"t":32.41,"s":"$1k < i < $10k","v":0.235},{"t":32.52,"s":"$1k < i < $10k","v":0.278},{"t":32.67,"s":"$1k < i < $10k","v":0.216},{"t":32.85,"s":"$1k < i < $10k","v":0.293},{"t":32.96,"s":"$1k < i < $10k","v":0.293},{"t":33.00,"s":"$1k < i < $10k","v":0.434},{"t":33.14,"s":"$1k < i < $10k","v":0.638},{"t":33.25,"s":"$1k < i < $10k","v":0.700},{"t":33.32,"s":"$1k < i < $10k","v":0.680},{"t":33.41,"s":"$1k < i < $10k","v":0.528},{"t":33.51,"s":"$1k < i < $10k","v":0.653},{"t":33.62,"s":"$1k < i < $10k","v":0.778},{"t":33.73,"s":"$1k < i < $10k","v":0.802},{"t":33.84,"s":"$1k < i < $10k","v":0.731},{"t":33.98,"s":"$1k < i < $10k","v":0.512},{"t":34.13,"s":"$1k < i < $10k","v":0.293},{"t":34.27,"s":"$1k < i < $10k","v":0.262},{"t":34.38,"s":"$1k < i < $10k","v":0.137},{"t":34.53,"s":"$1k < i < $10k","v":0.044},{"t":34.68,"s":"$1k < i < $10k","v":0.052},{"t":34.79,"s":"$1k < i < $10k","v":0.065},{"t":34.97,"s":"$1k < i < $10k","v":0.098},{"t":35.12,"s":"$1k < i < $10k","v":0.122},{"t":35.25,"s":"$1k < i < $10k","v":0.106},
{"t":11.43,"s":"$10k < i < $100k","v":0.067},{"t":11.80,"s":"$10k < i < $100k","v":0.067},{"t":12.09,"s":"$10k < i < $100k","v":0.056},{"t":12.45,"s":"$10k < i < $100k","v":0.060},{"t":12.82,"s":"$10k < i < $100k","v":0.056},{"t":12.96,"s":"$10k < i < $100k","v":0.083},{"t":13.11,"s":"$10k < i < $100k","v":0.036},{"t":13.33,"s":"$10k < i < $100k","v":0.020},{"t":13.55,"s":"$10k < i < $100k","v":0.005},{"t":13.77,"s":"$10k < i < $100k","v":0.025},{"t":14.06,"s":"$10k < i < $100k","v":0.036},{"t":14.28,"s":"$10k < i < $100k","v":0.040},{"t":14.50,"s":"$10k < i < $100k","v":0.030},{"t":14.79,"s":"$10k < i < $100k","v":0.005},{"t":15.20,"s":"$10k < i < $100k","v":0.003},{"t":15.45,"s":"$10k < i < $100k","v":0.005},{"t":15.74,"s":"$10k < i < $100k","v":0.003},{"t":16.04,"s":"$10k < i < $100k","v":0.012},{"t":16.33,"s":"$10k < i < $100k","v":0.020},{"t":16.62,"s":"$10k < i < $100k","v":0.028},{"t":16.91,"s":"$10k < i < $100k","v":0.044},{"t":17.17,"s":"$10k < i < $100k","v":0.067},{"t":17.35,"s":"$10k < i < $100k","v":0.044},{"t":17.53,"s":"$10k < i < $100k","v":0.012},{"t":17.72,"s":"$10k < i < $100k","v":0.052},{"t":18.00,"s":"$10k < i < $100k","v":0.052},{"t":18.16,"s":"$10k < i < $100k","v":0.045},{"t":18.30,"s":"$10k < i < $100k","v":0.075},{"t":18.52,"s":"$10k < i < $100k","v":0.090},{"t":18.74,"s":"$10k < i < $100k","v":0.098},{"t":19.11,"s":"$10k < i < $100k","v":0.098},{"t":19.47,"s":"$10k < i < $100k","v":0.103},{"t":19.69,"s":"$10k < i < $100k","v":0.098},{"t":19.95,"s":"$10k < i < $100k","v":0.122},{"t":20.35,"s":"$10k < i < $100k","v":0.127},{"t":20.72,"s":"$10k < i < $100k","v":0.125},{"t":21.15,"s":"$10k < i < $100k","v":0.122},{"t":21.59,"s":"$10k < i < $100k","v":0.117},{"t":22.03,"s":"$10k < i < $100k","v":0.124},{"t":22.32,"s":"$10k < i < $100k","v":0.153},{"t":22.83,"s":"$10k < i < $100k","v":0.153},{"t":22.91,"s":"$10k < i < $100k","v":0.160},{"t":23.20,"s":"$10k < i < $100k","v":0.317},{"t":23.49,"s":"$10k < i < $100k","v":0.466},{"t":23.71,"s":"$10k < i < $100k","v":0.575},{"t":23.90,"s":"$10k < i < $100k","v":0.661},{"t":24.37,"s":"$10k < i < $100k","v":0.661},{"t":24.66,"s":"$10k < i < $100k","v":0.672},{"t":24.95,"s":"$10k < i < $100k","v":0.687},{"t":25.25,"s":"$10k < i < $100k","v":0.700},{"t":25.43,"s":"$10k < i < $100k","v":0.708},{"t":25.57,"s":"$10k < i < $100k","v":0.739},{"t":25.83,"s":"$10k < i < $100k","v":0.755},{"t":26.09,"s":"$10k < i < $100k","v":0.766},{"t":26.34,"s":"$10k < i < $100k","v":0.778},{"t":26.56,"s":"$10k < i < $100k","v":0.775},{"t":26.71,"s":"$10k < i < $100k","v":0.739},{"t":26.82,"s":"$10k < i < $100k","v":0.750},{"t":27.08,"s":"$10k < i < $100k","v":0.750},{"t":27.37,"s":"$10k < i < $100k","v":0.755},{"t":27.73,"s":"$10k < i < $100k","v":0.770},{"t":28.03,"s":"$10k < i < $100k","v":0.786},{"t":28.32,"s":"$10k < i < $100k","v":0.794},{"t":28.61,"s":"$10k < i < $100k","v":0.790},{"t":28.90,"s":"$10k < i < $100k","v":0.781},{"t":29.19,"s":"$10k < i < $100k","v":0.778},{"t":29.56,"s":"$10k < i < $100k","v":0.775},{"t":29.92,"s":"$10k < i < $100k","v":0.778},{"t":30.29,"s":"$10k < i < $100k","v":0.778},{"t":30.66,"s":"$10k < i < $100k","v":0.781},{"t":30.95,"s":"$10k < i < $100k","v":0.802},{"t":31.17,"s":"$10k < i < $100k","v":0.844},{"t":31.35,"s":"$10k < i < $100k","v":0.864},{"t":31.50,"s":"$10k < i < $100k","v":0.855},{"t":31.64,"s":"$10k < i < $100k","v":0.802},{"t":31.86,"s":"$10k < i < $100k","v":0.775},{"t":32.01,"s":"$10k < i < $100k","v":0.790},{"t":32.19,"s":"$10k < i < $100k","v":0.828},{"t":32.41,"s":"$10k < i < $100k","v":0.849},{"t":32.63,"s":"$10k < i < $100k","v":0.859},{"t":32.92,"s":"$10k < i < $100k","v":0.872},{"t":33.03,"s":"$10k < i < $100k","v":0.875},{"t":33.14,"s":"$10k < i < $100k","v":0.966},{"t":33.32,"s":"$10k < i < $100k","v":0.994},{"t":33.58,"s":"$10k < i < $100k","v":0.934},{"t":33.76,"s":"$10k < i < $100k","v":0.942},{"t":33.91,"s":"$10k < i < $100k","v":0.911},{"t":34.16,"s":"$10k < i < $100k","v":0.895},{"t":34.38,"s":"$10k < i < $100k","v":0.880},{"t":34.60,"s":"$10k < i < $100k","v":0.833},{"t":34.90,"s":"$10k < i < $100k","v":0.841},{"t":35.25,"s":"$10k < i < $100k","v":0.844},
{"t":11.43,"s":"$100k < i < $1M","v":0.598},{"t":11.58,"s":"$100k < i < $1M","v":0.559},{"t":11.80,"s":"$100k < i < $1M","v":0.559},{"t":11.94,"s":"$100k < i < $1M","v":0.606},{"t":12.05,"s":"$100k < i < $1M","v":0.614},{"t":12.42,"s":"$100k < i < $1M","v":0.614},{"t":12.49,"s":"$100k < i < $1M","v":0.645},{"t":12.57,"s":"$100k < i < $1M","v":0.645},{"t":12.64,"s":"$100k < i < $1M","v":0.567},{"t":12.78,"s":"$100k < i < $1M","v":0.567},{"t":12.86,"s":"$100k < i < $1M","v":0.731},{"t":12.93,"s":"$100k < i < $1M","v":0.661},{"t":13.04,"s":"$100k < i < $1M","v":0.692},{"t":13.11,"s":"$100k < i < $1M","v":0.692},{"t":13.22,"s":"$100k < i < $1M","v":0.606},{"t":13.33,"s":"$100k < i < $1M","v":0.528},{"t":13.44,"s":"$100k < i < $1M","v":0.559},{"t":13.55,"s":"$100k < i < $1M","v":0.512},{"t":13.77,"s":"$100k < i < $1M","v":0.512},{"t":13.88,"s":"$100k < i < $1M","v":0.528},{"t":14.14,"s":"$100k < i < $1M","v":0.528},{"t":14.36,"s":"$100k < i < $1M","v":0.544},{"t":14.61,"s":"$100k < i < $1M","v":0.606},{"t":14.72,"s":"$100k < i < $1M","v":0.600},{"t":14.87,"s":"$100k < i < $1M","v":0.551},{"t":15.09,"s":"$100k < i < $1M","v":0.551},{"t":15.23,"s":"$100k < i < $1M","v":0.512},{"t":15.45,"s":"$100k < i < $1M","v":0.528},{"t":15.67,"s":"$100k < i < $1M","v":0.528},{"t":15.74,"s":"$100k < i < $1M","v":0.520},{"t":15.96,"s":"$100k < i < $1M","v":0.520},{"t":16.25,"s":"$100k < i < $1M","v":0.619},{"t":17.13,"s":"$100k < i < $1M","v":0.619},{"t":17.21,"s":"$100k < i < $1M","v":0.610},{"t":17.35,"s":"$100k < i < $1M","v":0.489},{"t":17.50,"s":"$100k < i < $1M","v":0.458},{"t":17.72,"s":"$100k < i < $1M","v":0.434},{"t":17.86,"s":"$100k < i < $1M","v":0.340},{"t":17.97,"s":"$100k < i < $1M","v":0.262},{"t":18.19,"s":"$100k < i < $1M","v":0.262},{"t":18.30,"s":"$100k < i < $1M","v":0.317},{"t":18.37,"s":"$100k < i < $1M","v":0.403},{"t":18.52,"s":"$100k < i < $1M","v":0.403},{"t":18.63,"s":"$100k < i < $1M","v":0.497},{"t":18.78,"s":"$100k < i < $1M","v":0.497},{"t":18.89,"s":"$100k < i < $1M","v":0.520},{"t":19.00,"s":"$100k < i < $1M","v":0.481},{"t":19.11,"s":"$100k < i < $1M","v":0.497},{"t":19.87,"s":"$100k < i < $1M","v":0.497},{"t":19.95,"s":"$100k < i < $1M","v":0.583},{"t":20.28,"s":"$100k < i < $1M","v":0.583},{"t":20.35,"s":"$100k < i < $1M","v":0.606},{"t":20.53,"s":"$100k < i < $1M","v":0.606},{"t":20.61,"s":"$100k < i < $1M","v":0.481},{"t":20.93,"s":"$100k < i < $1M","v":0.478},{"t":21.45,"s":"$100k < i < $1M","v":0.473},{"t":21.48,"s":"$100k < i < $1M","v":0.450},{"t":21.99,"s":"$100k < i < $1M","v":0.450},{"t":22.14,"s":"$100k < i < $1M","v":0.427},{"t":22.25,"s":"$100k < i < $1M","v":0.411},{"t":22.32,"s":"$100k < i < $1M","v":0.692},{"t":22.47,"s":"$100k < i < $1M","v":0.723},{"t":22.65,"s":"$100k < i < $1M","v":0.716},{"t":22.72,"s":"$100k < i < $1M","v":0.739},{"t":22.91,"s":"$100k < i < $1M","v":0.739},{"t":23.05,"s":"$100k < i < $1M","v":0.755},{"t":23.20,"s":"$100k < i < $1M","v":0.692},{"t":23.35,"s":"$100k < i < $1M","v":0.661},{"t":23.49,"s":"$100k < i < $1M","v":0.665},{"t":23.64,"s":"$100k < i < $1M","v":0.700},{"t":23.86,"s":"$100k < i < $1M","v":0.700},{"t":24.00,"s":"$100k < i < $1M","v":0.723},{"t":24.19,"s":"$100k < i < $1M","v":0.739},{"t":24.30,"s":"$100k < i < $1M","v":0.739},{"t":24.41,"s":"$100k < i < $1M","v":0.700},{"t":24.59,"s":"$100k < i < $1M","v":0.739},{"t":24.81,"s":"$100k < i < $1M","v":0.762},{"t":24.95,"s":"$100k < i < $1M","v":0.770},{"t":25.03,"s":"$100k < i < $1M","v":0.786},{"t":25.17,"s":"$100k < i < $1M","v":0.794},{"t":25.46,"s":"$100k < i < $1M","v":0.794},{"t":25.54,"s":"$100k < i < $1M","v":0.809},{"t":25.87,"s":"$100k < i < $1M","v":0.809},{"t":26.01,"s":"$100k < i < $1M","v":0.833},{"t":26.20,"s":"$100k < i < $1M","v":0.856},{"t":26.31,"s":"$100k < i < $1M","v":0.856},{"t":26.38,"s":"$100k < i < $1M","v":0.731},{"t":26.49,"s":"$100k < i < $1M","v":0.669},{"t":26.64,"s":"$100k < i < $1M","v":0.692},{"t":27.37,"s":"$100k < i < $1M","v":0.697},{"t":27.48,"s":"$100k < i < $1M","v":0.723},{"t":27.70,"s":"$100k < i < $1M","v":0.723},{"t":27.77,"s":"$100k < i < $1M","v":0.770},{"t":28.03,"s":"$100k < i < $1M","v":0.778},{"t":28.18,"s":"$100k < i < $1M","v":0.802},{"t":28.32,"s":"$100k < i < $1M","v":0.853},{"t":28.43,"s":"$100k < i < $1M","v":0.853},{"t":28.50,"s":"$100k < i < $1M","v":0.825},{"t":29.56,"s":"$100k < i < $1M","v":0.825},{"t":29.63,"s":"$100k < i < $1M","v":0.900},{"t":29.92,"s":"$100k < i < $1M","v":0.900},{"t":30.00,"s":"$100k < i < $1M","v":0.926},{"t":30.69,"s":"$100k < i < $1M","v":0.926},{"t":30.84,"s":"$100k < i < $1M","v":0.997},{"t":30.95,"s":"$100k < i < $1M","v":0.985},{"t":31.17,"s":"$100k < i < $1M","v":0.958},{"t":31.28,"s":"$100k < i < $1M","v":0.864},{"t":31.50,"s":"$100k < i < $1M","v":0.864},{"t":31.61,"s":"$100k < i < $1M","v":0.762},{"t":31.75,"s":"$100k < i < $1M","v":0.755},{"t":31.86,"s":"$100k < i < $1M","v":0.708},{"t":32.01,"s":"$100k < i < $1M","v":0.645},{"t":32.19,"s":"$100k < i < $1M","v":0.645},{"t":32.26,"s":"$100k < i < $1M","v":0.672},{"t":32.92,"s":"$100k < i < $1M","v":0.672},{"t":33.07,"s":"$100k < i < $1M","v":0.719},{"t":33.22,"s":"$100k < i < $1M","v":0.712},{"t":33.32,"s":"$100k < i < $1M","v":0.645},{"t":33.51,"s":"$100k < i < $1M","v":0.645},{"t":33.65,"s":"$100k < i < $1M","v":0.614},{"t":33.80,"s":"$100k < i < $1M","v":0.559},{"t":33.98,"s":"$100k < i < $1M","v":0.403},{"t":34.09,"s":"$100k < i < $1M","v":0.176},{"t":34.27,"s":"$100k < i < $1M","v":0.169},{"t":34.38,"s":"$100k < i < $1M","v":0.005},{"t":34.57,"s":"$100k < i < $1M","v":0.005},{"t":34.68,"s":"$100k < i < $1M","v":0.075},{"t":35.25,"s":"$100k < i < $1M","v":0.075},
{"t":11.43,"s":"$1M < i < $10M","v":0},{"t":25.42,"s":"$1M < i < $10M","v":0},{"t":25.49,"s":"$1M < i < $10M","v":1},{"t":35.25,"s":"$1M < i < $10M","v":1}
]
},
"vconcat": [
{
  "width": 1087,
  "height": 297,
  "title": {"text": "ETH_USDT", "anchor": "start", "frame": "group", "fontSize": 16, "fontWeight": "bold", "font": "Liberation Sans", "color": "#000", "offset": 8},
  "view": {"stroke": "#aaaaaa"},
  "layer": [
    {
      "data": {"name": "heat"},
      "mark": {"type": "rect", "clip": true, "strokeWidth": 0.8},
      "encoding": {
        "x": {"field": "t", "type": "quantitative", "scale": {"domain": [11.43, 35.25], "nice": false, "zero": false}, "axis": null},
        "x2": {"field": "t2"},
        "y": {"field": "p", "type": "quantitative", "scale": {"domain": [3242, 3505], "nice": false, "zero": false},
              "axis": {"orient": "right", "title": "Price [USDT]", "titleAngle": 90, "titlePadding": 3, "labelOverlap": false, "labelBound": false, "tickCount": 100,
                       "values": [3250,3260,3270,3280,3290,3300,3310,3320,3330,3340,3350,3360,3370,3380,3390,3400,3410,3420,3430,3440,3450,3460,3470,3480,3490,3500],
                       "labelExpr": "datum.value % 50 == 0 ? format(datum.value / 1000, '.3f') + ' k' : ''",
                       "tickSize": {"condition": {"test": "datum.value % 50 == 0", "value": 7}, "value": 4},
                       "grid": false, "domain": false, "labelPadding": 4}},
        "y2": {"field": "p2"},
        "color": {"field": "v", "type": "quantitative", "title": "Volume",
                  "scale": {"domain": [0, 31.2], "interpolate": "rgb", "range": ["#0b0000", "#5e0000", "#b20000", "#ff0700", "#ff5a00", "#ffae00", "#ffff04", "#ffff82", "#ffffff"]},
                  "legend": {"orient": "none", "legendX": -101, "legendY": 22, "direction": "vertical", "gradientLength": 247, "gradientThickness": 27,
                             "titleFontStyle": "italic", "titleFontWeight": "normal", "titleFontSize": 13, "titleColor": "#444", "titlePadding": 3,
                             "labelFontSize": 12, "labelColor": "#444", "labelOffset": 10, "labelOverlap": false, "tickCount": 100,
                             "values": [0, 5, 10, 15, 20, 25, 30],
                             "labelExpr": "datum.value == 0 ? '0' : datum.value == 5 ? '5 M' : format(datum.value, '.1f') + ' M'",
                             "gradientStrokeColor": "#222", "gradientStrokeWidth": 1}},
        "stroke": {"field": "v", "type": "quantitative",
                  "scale": {"domain": [0, 31.2], "interpolate": "rgb", "range": ["#0b0000", "#5e0000", "#b20000", "#ff0700", "#ff5a00", "#ffae00", "#ffff04", "#ffff82", "#ffffff"]},
                  "legend": null}
      }
    },
    {
      "data": {"name": "price"},
      "mark": {"type": "line", "color": "#1f77b4", "strokeWidth": 2.5, "clip": true},
      "encoding": {
        "x": {"field": "t", "type": "quantitative"},
        "y": {"field": "price", "type": "quantitative"}
      }
    }
  ]
},
{
  "width": 1087,
  "height": 214,
  "view": {"stroke": "#e5e5e5"},
  "layer": [
    {
      "data": {"values": [{}]},
      "mark": {"type": "text", "text": "MATERIAL", "font": "Liberation Sans", "fontWeight": "bold", "fontSize": 27, "color": "#dcdcdc", "align": "center", "baseline": "middle"},
      "encoding": {"x": {"datum": 15.0}, "y": {"datum": 0.27}}
    },
    {
      "data": {"values": [{}]},
      "mark": {"type": "text", "text": "INDICATORS", "font": "Liberation Sans", "fontWeight": "bold", "fontSize": 27, "color": "#dcdcdc", "align": "center", "baseline": "middle"},
      "encoding": {"x": {"datum": 15.27}, "y": {"datum": 0.086}}
    },
    {
      "data": {"name": "cvd"},
      "mark": {"type": "line", "strokeWidth": 2},
      "encoding": {
        "x": {"field": "t", "type": "quantitative", "scale": {"domain": [11.43, 35.25], "nice": false, "zero": false},
              "axis": {"title": "Date (UTC)", "values": [12, 16, 20, 24, 28, 32], "labelOverlap": false, "tickCount": 100,
                       "labelExpr": "datum.value == 24 ? '12/27' : (datum.value % 24) + 'h'",
                       "tickSize": 6, "labelPadding": 6, "titlePadding": 12, "gridColor": "#e5e5e5"}},
        "y": {"field": "v", "type": "quantitative", "scale": {"domain": [0, 1], "nice": false},
              "axis": {"title": "Normalized CVD [arb. u.]", "titlePadding": 8, "labelOverlap": false, "labelBound": false, "tickCount": 100,
                       "values": [0,0.04,0.08,0.12,0.16,0.2,0.24,0.28,0.32,0.36,0.4,0.44,0.48,0.52,0.56,0.6,0.64,0.68,0.72,0.76,0.8,0.84,0.88,0.92,0.96,1],
                       "labelExpr": "abs(datum.value * 5 - round(datum.value * 5)) > 0.001 ? '' : datum.value == 0 ? '0' : datum.value > 0.999 ? '1.000' : format(datum.value * 1000, '.2f') + ' m'",
                       "tickSize": {"condition": {"test": "abs(datum.value * 5 - round(datum.value * 5)) < 0.001", "value": 7}, "value": 4},
                       "gridColor": "#e5e5e5",
                       "gridOpacity": {"condition": {"test": "abs(datum.value * 5 - round(datum.value * 5)) < 0.001", "value": 1}, "value": 0},
                       "labelPadding": 4}},
        "color": {"field": "s", "type": "nominal",
                  "scale": {"domain": ["all orders", "$100 < i < $1k", "$1k < i < $10k", "$10k < i < $100k", "$100k < i < $1M", "$1M < i < $10M"],
                            "range": ["#1f77b4", "#ff7f0e", "#2ca02c", "#d62728", "#9467bd", "#8c564b"]},
                  "legend": {"orient": "none", "legendX": -91, "legendY": 289, "direction": "horizontal", "columns": 6, "title": null,
                             "symbolType": "stroke", "symbolSize": 441, "symbolStrokeWidth": 2.5, "labelFontSize": 12, "labelColor": "#444",
                             "labelOffset": 5, "columnPadding": 0, "strokeColor": "#e5e5e5", "padding": 12, "fillColor": "#ffffff"}}
      }
    },
    {
      "data": {"values": [{}]},
      "mark": {"type": "text", "text": "곰지네 트레이딩 CVD", "font": "Noto Sans CJK KR", "fontWeight": "bold", "fontSize": 26, "color": "#000", "align": "center", "baseline": "middle"},
      "encoding": {"x": {"datum": 18.64}, "y": {"datum": 0.911}}
    },
    {
      "data": {"values": [{}]},
      "mark": {"type": "text", "text": "Powered By Material Indictors", "font": "Noto Sans CJK KR", "fontWeight": "bold", "fontSize": 24, "color": "#000", "align": "center", "baseline": "middle"},
      "encoding": {"x": {"datum": 18.58}, "y": {"datum": 0.756}}
    },
    {
      "data": {"values": [{}]},
      "mark": {"type": "text", "text": "https://t.me/oddstrading2", "font": "Noto Sans CJK KR", "fontWeight": "bold", "fontSize": 23.5, "color": "#000", "align": "center", "baseline": "middle"},
      "encoding": {"x": {"datum": 32.89}, "y": {"datum": -0.331}}
    }
  ]
}
]
}
